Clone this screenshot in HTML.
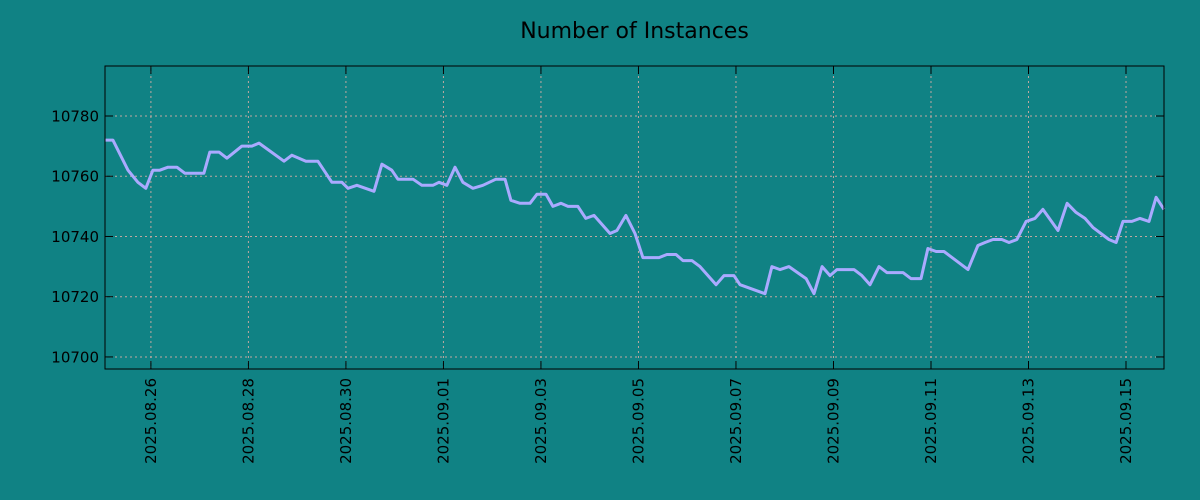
<!DOCTYPE html>
<html><head><meta charset="utf-8"><style>
body{margin:0;background:#108284;}
svg{display:block;font-family:"DejaVu Sans","Liberation Sans",sans-serif;}
</style></head><body>
<svg id="chart" width="1200" height="500">
<rect width="1200" height="500" fill="#108284"/>
<text x="634.5" y="38" text-anchor="middle" font-size="22" fill="#000">Number of Instances</text>
<g id="grid"></g><g id="series"></g><g id="axes"></g>
</svg>
<script>
const hours = [-22.6,-18.7,-11.3,-6.4,-2.5,1.0,4.4,8.4,12.8,16.7,26.1,29.0,33.5,37.4,44.8,49.7,53.2,65.5,69.4,76.3,82.2,89.1,94.0,97.0,101.4,109.8,113.7,118.6,121.6,129.0,133.4,138.8,141.8,145.7,149.7,153.6,158.5,163.4,169.8,174.3,177.2,181.7,186.6,190.0,194.5,197.9,201.8,205.3,210.2,214.1,218.1,226.0,229.4,233.8,238.3,242.2,250.1,254.0,258.5,261.9,266.3,270.3,278.2,282.1,287.0,290.0,302.3,305.7,309.7,314.1,322.5,326.4,330.4,334.3,337.7,346.1,350.0,354.0,358.4,362.3,370.2,374.1,379.1,382.5,386.5,390.4,402.2,407.1,410.6,414.5,418.9,422.4,426.3,430.8,435.2,439.1,446.5,451.0,455.4,459.8,463.7,471.6,475.1,478.5,482.9,486.9,491.3,494.8,498.7];
const values = [10772,10772,10762,10758,10756,10762,10762,10763,10763,10761,10761,10768,10768,10766,10770,10770,10771,10765,10767,10765,10765,10758,10758,10756,10757,10755,10764,10762,10759,10759,10757,10757,10758,10757,10763,10758,10756,10757,10759,10759,10752,10751,10751,10754,10754,10750,10751,10750,10750,10746,10747,10741,10742,10747,10741,10733,10733,10734,10734,10732,10732,10730,10724,10727,10727,10724,10721,10730,10729,10730,10726,10721,10730,10727,10729,10729,10727,10724,10730,10728,10728,10726,10726,10736,10735,10735,10729,10737,10738,10739,10739,10738,10739,10745,10746,10749,10742,10751,10748,10746,10743,10739,10738,10745,10745,10746,10745,10753,10749];
const yTicks = [10700,10720,10740,10760,10780];
const xTickLabels = ["2025.08.26","2025.08.28","2025.08.30","2025.09.01","2025.09.03","2025.09.05","2025.09.07","2025.09.09","2025.09.11","2025.09.13","2025.09.15"];
const xTickHours = [0,48,96,144,192,240,288,336,384,432,480];

const L=105,R=1164,T=66,B=369;
const xMin=-22.6,xMax=498.7;
const yMin=10696.0,yMax=10796.6;
const xs=h=>L+(h-xMin)/(xMax-xMin)*(R-L);
const ys=v=>B-(v-yMin)/(yMax-yMin)*(B-T);
const NS="http://www.w3.org/2000/svg";
function mk(tag,attrs,parent){const e=document.createElementNS(NS,tag);for(const k in attrs)e.setAttribute(k,attrs[k]);parent.appendChild(e);return e;}
const grid=document.getElementById('grid'),axes=document.getElementById('axes'),series=document.getElementById('series');
yTicks.forEach(v=>{const y=ys(v);
 const g=mk('line',{x1:L,x2:R,y1:y,y2:y,stroke:'#c0a8a0','stroke-dasharray':'2,3','stroke-width':1},grid);
 
 
 mk('line',{x1:L,x2:L+8,y1:y,y2:y,stroke:'#000'},axes);
 mk('line',{x1:R-8,x2:R,y1:y,y2:y,stroke:'#000'},axes);
 const t=mk('text',{x:L-6,y:y+5.5,'text-anchor':'end','font-size':15,fill:'#000'},axes);
 t.textContent=v;
 
 
});
xTickHours.forEach((h,i)=>{const x=xs(h);
 const g=mk('line',{x1:x,x2:x,y1:T,y2:B,stroke:'#c0a8a0','stroke-dasharray':'2,3','stroke-width':1},grid);
 
 
 mk('line',{x1:x,x2:x,y1:B-8,y2:B,stroke:'#000'},axes);
 mk('line',{x1:x,x2:x,y1:T,y2:T+8,stroke:'#000'},axes);
 const t=mk('text',{x:x+5,y:B+9,'text-anchor':'end','font-size':15,fill:'#000',transform:`rotate(-90 ${x+5} ${B+9})`},axes);
 t.textContent=xTickLabels[i];
 
 
});
const fr=mk('rect',{x:L,y:T,width:R-L,height:B-T,fill:'none',stroke:'#000','stroke-width':1},axes);


const pts=hours.map((h,i)=>xs(h).toFixed(1)+','+ys(values[i]).toFixed(1)).join(' ');
const pl=mk('polyline',{points:pts,fill:'none',stroke:'#aaaaff','stroke-width':3,'stroke-linejoin':'round'},series);


</script>
</body></html>
